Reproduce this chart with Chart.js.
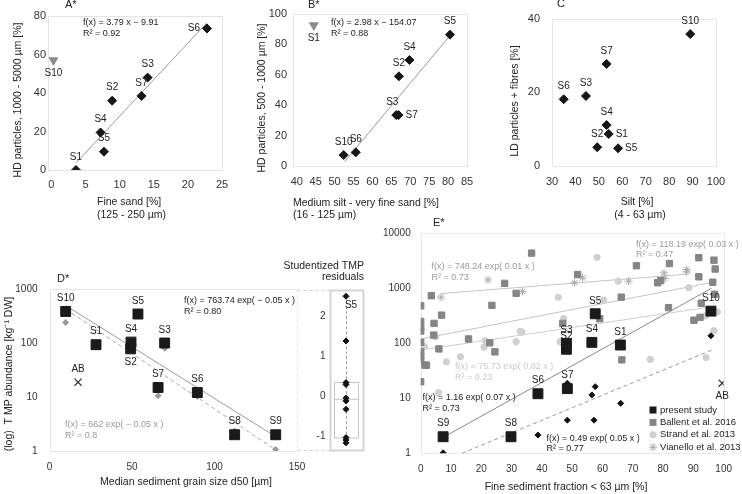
<!DOCTYPE html>
<html>
<head>
<meta charset="utf-8">
<script src="https://cdn.jsdelivr.net/npm/chart.js@4.4.0/dist/chart.umd.min.js"></script>
<style>
  html, body { margin: 0; padding: 0; background: #fff; }
  #wrap { position: relative; width: 742px; height: 494px; overflow: hidden; }
  #wrap canvas { position: absolute; left: 0; top: 0; }
</style>
</head>
<body>
<div id="wrap">
  <canvas id="cA" width="742" height="494"></canvas>
  <canvas id="cB" width="742" height="494"></canvas>
  <canvas id="cC" width="742" height="494"></canvas>
  <canvas id="cD" width="742" height="494"></canvas>
  <canvas id="cR" width="742" height="494"></canvas>
  <canvas id="cE" width="742" height="494"></canvas>
</div>
<script>
const W = 742, H = 494;
const FONT = '"Liberation Sans", Arial, Helvetica, sans-serif';
const YW = 45, XH = 30;   // fixed scale box sizes (labels are clipped to them)

// ---- A: fine sand vs HD particles 1000 - 5000 µm
const aNames = ['S1', 'S4', 'S5', 'S2', 'S7', 'S3', 'S6'];
const aFineSand = [3.6, 7.2, 7.7, 8.9, 13.2, 14.1, 22.8];
const aHD = [0, 19.5, 9.5, 36, 38.5, 48, 73.5];
const aOutNames = ['S10'];
const aOutX = [0.3];
const aOutY = [57];
const aFitX = [3.6, 22.8];
const aFitY = [3.7, 76.5];
const aTicksX = [0, 5, 10, 15, 20, 25];
const aTicksY = [0, 20, 40, 60, 80];

// ---- B: medium silt - very fine sand vs HD particles 500 - 1000 µm
const bNames = ['S10', 'S6', 'S3', 'S7', 'S2', 'S4', 'S5'];
const bSiltSand = [52.4, 55.6, 66.3, 66.9, 67.0, 69.8, 80.5];
const bHD = [7.2, 9, 33.5, 33.5, 59, 69.7, 86.4];
const bOutNames = ['S1'];
const bOutX = [44.5];
const bOutY = [92.6];
const bFitX = [52.6, 80.5];
const bFitY = [2.7, 85.8];
const bTicksX = [40, 45, 50, 55, 60, 65, 70, 75, 80, 85];
const bTicksY = [0, 20, 40, 60, 80, 100];

// ---- C: silt vs LD particles + fibres
const cNames = ['S10', 'S7', 'S6', 'S3', 'S4', 'S1', 'S2', 'S5'];
const cSilt = [89.0, 53.3, 35.0, 44.5, 53.3, 54.2, 49.3, 58.2];
const cLD = [35.8, 27.7, 18.1, 19.0, 11.1, 8.7, 5.1, 4.8];
const cTicksX = [30, 40, 50, 60, 70, 80, 90, 100];
const cTicksY = [0, 20, 40];

// ---- D / E: present study samples
const samples = ['S10', 'S1', 'S4', 'S2', 'S5', 'S3', 'S7', 'S6', 'S8', 'S9'];
const d50 = [9.8, 28.2, 49.4, 49.2, 53.6, 69.8, 65.8, 89.6, 112.2, 137.1];
const tmpAbundance = [384, 93, 104, 78, 344, 100, 15, 12.1, 2.0, 2.0];
const tmpAlt = [240, 88, 92, 75, 340, 80, 10.6, 10.2, 2.35, 1.07];
const finesFraction = [95.8, 65.9, 56.5, 48.1, 57.6, 48.1, 48.4, 38.7, 29.8, 7.4];
const abD50 = [17.3];
const abFines = [99.5];
const abTmp = [18.8];
const dFitX = [10, 137];
const dFitY = [490, 1.85];
const dFitAltX = [10, 137];
const dFitAltY = [420, 1.05];
const dTicksX = [0, 50, 100, 150];
const dTicksY = [1, 10, 100, 1000];

// ---- studentized TMP residuals
const resValues = [2.5, 1.38, 0.34, 0.29, -0.05, -0.12, -0.33, -1.04, -1.1, -1.17];
const resNames = ['S5', '', '', '', '', '', '', '', '', ''];
const resBox = [-1.05, -0.08, 0.34];   // q1, median, q3
const resTicks = [-1, 0, 1, 2];

// ---- E: literature comparison
const eSmallX = [7.4, 38.7, 48.4, 57.6, 56.5, 66.0, 48.4, 57.2, 95.8];
const eSmallY = [1.02, 2.15, 18.8, 16.3, 11.5, 8.1, 4.0, 4.0, 137];
const ballentX = [36.6, 27.7, 31.5, 3.5, 0, 23.5, 6.9, 0, 4.4, 0, 0, 4.3, 0, 15.8, 22.8, 46.9, 6.0, 0, 0, 0,
  1.4, 1.9, 24.5, 0, 51.8, 71.2, 82.1, 91.8, 96.8, 97.2, 91.8, 78.2, 79.2, 96.4, 66.2, 81.8, 59.1, 92.6, 97.0,
  92.2, 90.2, 66.4];
const ballentY = [4370, 1230, 810, 733, 480, 490, 325, 250, 230, 195, 167, 141, 104, 120, 102, 230, 79, 70, 60, 50,
  40, 40, 70, 20, 1780, 2570, 2820, 3600, 3250, 2240, 1620, 1260, 1380, 1290, 690, 445, 280, 535, 780,
  296, 263, 50];
const strandX = [1.2, 4.9, 8.5, 13.1, 5.9, 21.3, 20.9, 31.5, 32.8, 33.4, 45.4, 46.0, 47.2, 58.2, 65.2, 60.4,
  75.8, 88.5, 94.0, 97.9, 96.8, 94.2];
const strandY = [87, 131, 46, 57, 12.7, 112, 85, 107, 165, 160, 690, 107, 283, 3650, 1350, 615,
  51, 1025, 315, 370, 170, 55];
const vianelloX = [6.7, 22.2, 33.6, 50.8, 53.4, 68.6, 80.3, 80.6, 87.8, 87.8];
const vianelloY = [690, 1420, 870, 1260, 1550, 1350, 1900, 1510, 2200, 1980];
const eFitX = [7.5, 96];
const eFitY = [1.96, 1000];
const eFitSmallX = [13.6, 96];
const eFitSmallY = [1.0, 75];
const vianelloFitX = [6.7, 87.8];
const vianelloFitY = [802, 1803];
const ballentFitX = [0, 96.5];
const ballentFitY = [120, 1290];
const strandFitX = [1.2, 97.9];
const strandFitY = [77, 480];
const eTicksX = [0, 10, 20, 30, 40, 50, 60, 70, 80, 90, 100];
const eTicksY = [1, 10, 100, 1000, 10000];

Chart.defaults.font.family = FONT;
Chart.defaults.font.size = 11;
Chart.defaults.color = '#333';

const pts = (xs, ys) => xs.map((x, i) => ({x: x, y: ys[i]}));

// chart area edges in page pixels -> layout padding
function pad(l, t, r, b, noX) {
  return {left: Math.max(0, l - YW), top: t, right: W - r, bottom: H - b - (noX ? 0 : XH)};
}

function axis(type, min, max, ticks, tickPad, size, hidden) {
  const s = {
    type: type, min: min, max: max, display: !hidden,
    grid: {display: false, drawTicks: false},
    border: {display: false},
    ticks: {padding: tickPad, color: '#333', font: {size: size}, maxRotation: 0, minRotation: 0,
      autoSkip: false, callback: v => String(v)},
    afterBuildTicks: sc => { sc.ticks = ticks.map(v => ({value: v})); }
  };
  if (!hidden) {
    s.afterFit = sc => {
      if (sc.isHorizontal()) sc.height = XH;
      else sc.width = Math.min(YW, sc.chart.options.layout.padding.left + YW);
    };
  }
  return s;
}

function marks(xs, ys, style, extra) {
  return Object.assign({data: pts(xs, ys), showLine: false}, style, extra || {});
}

function fit(xs, ys, color, dash) {
  return {data: pts(xs, ys), showLine: true, borderColor: color, borderWidth: 1,
    borderDash: dash || [], pointRadius: 0};
}

function style(ps, r, fill, stroke, extra) {
  return Object.assign({pointStyle: ps, pointRadius: r, pointBackgroundColor: fill,
    pointBorderColor: stroke || fill, pointBorderWidth: 1}, extra || {});
}

const diamond = style('rectRot', 4.5, '#161616');
const triDown = style('triangle', 5, '#8c8c8c', '#8c8c8c', {pointRotation: 180});
const bigSquare = style('rect', 7, '#1a1a1a');
const smallGray = style('rectRot', 3, '#9a9a9a');
const smallBlack = style('rectRot', 3, '#111');
const crossMark = style('crossRot', 5, '#333', '#333', {pointBorderWidth: 1.2});

// light frame round the plot area
function frame(color, width, dashRight) {
  return {
    id: 'frame',
    beforeDatasetsDraw(chart) {
      const a = chart.chartArea, ctx = chart.ctx;
      const l = Math.round(a.left) + 0.5, r = Math.round(a.right) + 0.5;
      const t = Math.round(a.top) + 0.5, b = Math.round(a.bottom) + 0.5;
      ctx.save();
      ctx.strokeStyle = color;
      ctx.lineWidth = width;
      ctx.beginPath();
      ctx.moveTo(r, t); ctx.lineTo(l, t); ctx.lineTo(l, b); ctx.lineTo(r, b);
      if (!dashRight) ctx.lineTo(r, t);
      ctx.stroke();
      if (dashRight) {
        ctx.setLineDash([3, 3]);
        ctx.beginPath(); ctx.moveTo(r, t); ctx.lineTo(r, b); ctx.stroke();
      }
      ctx.restore();
    }
  };
}

// free text: titles, formulas, panel letters
function notes(items) {
  return {
    id: 'notes',
    afterDraw(chart) {
      const ctx = chart.ctx;
      items.forEach(n => {
        ctx.save();
        ctx.font = (n.size || 10.5) + 'px ' + FONT;
        ctx.fillStyle = n.color || '#222';
        ctx.textAlign = n.align || (n.rot ? 'center' : 'left');
        ctx.textBaseline = 'middle';
        ctx.translate(n.x, n.y);
        if (n.rot) ctx.rotate(-Math.PI / 2);
        ctx.fillText(n.text, 0, 0);
        ctx.restore();
      });
    }
  };
}

// sample names next to the points
const names = {
  id: 'names',
  afterDatasetsDraw(chart) {
    const ctx = chart.ctx;
    chart.data.datasets.forEach((ds, i) => {
      if (!ds.names) return;
      chart.getDatasetMeta(i).data.forEach((pt, j) => {
        const name = ds.names[j];
        if (!name) return;
        const pos = ds.namePos ? ds.namePos[j] : 'a';
        let x = pt.x, y = pt.y, align = 'center';
        if (pos === 'a') y -= 13;
        else if (pos === 'b') y += 13;
        else if (pos === 'l') { x -= 7; align = 'right'; }
        else if (pos === 'r') { x += 7; align = 'left'; }
        else { x += pos[0]; y += pos[1]; }
        ctx.save();
        ctx.font = '10px ' + FONT;
        ctx.fillStyle = '#222';
        ctx.textAlign = align;
        ctx.textBaseline = 'middle';
        ctx.fillText(name, x, y);
        ctx.restore();
      });
    });
  }
};

function makeChart(id, datasets, scales, padding, plugins) {
  return new Chart(document.getElementById(id), {
    type: 'scatter',
    data: {datasets: datasets},
    options: {
      responsive: false, animation: false, events: [],
      layout: {padding: padding},
      plugins: {legend: {display: false}, tooltip: {enabled: false}},
      scales: scales
    },
    plugins: plugins.concat([names])
  });
}

// ---------- A ----------
makeChart('cA', [
  marks(aFineSand, aHD, diamond, {names: aNames, namePos: ['a', 'a', 'a', 'a', 'a', 'a', 'l']}),
  marks(aOutX, aOutY, triDown, {names: aOutNames, namePos: ['b']}),
  fit(aFitX, aFitY, '#9a9a9a')
], {
  x: axis('linear', -0.5, 25, aTicksX, 8, 11),
  y: axis('linear', 0, 80, aTicksY, 2, 11)
}, pad(48, 16, 222, 170), [
  frame('#e4e4e4', 1),
  notes([
    {text: 'A*', x: 65, y: 5, size: 11},
    {text: 'f(x) = 3.79 x − 9.91', x: 83, y: 23, size: 9},
    {text: 'R² = 0.92', x: 83, y: 33.5, size: 9},
    {text: 'HD particles, 1000 - 5000 µm [%]', x: 18, y: 100, rot: true},
    {text: 'Fine sand [%]', x: 97, y: 202},
    {text: '(125 - 250 µm)', x: 97, y: 215}
  ])
]);

// ---------- B ----------
makeChart('cB', [
  marks(bSiltSand, bHD, diamond, {names: bNames, namePos: ['a', 'a', [-4, -13], 'r', 'a', 'a', 'a']}),
  marks(bOutX, bOutY, triDown, {names: bOutNames, namePos: ['b']}),
  fit(bFitX, bFitY, '#9a9a9a')
], {
  x: axis('linear', 39, 85, bTicksX, 9, 11),
  y: axis('linear', 0, 100, bTicksY, 6, 11)
}, pad(293, 14, 467, 166), [
  frame('#e4e4e4', 1),
  notes([
    {text: 'B*', x: 308, y: 5, size: 11},
    {text: 'f(x) = 2.98 x − 154.07', x: 331, y: 23, size: 9},
    {text: 'R² = 0.88', x: 331, y: 33.5, size: 9},
    {text: 'HD particles, 500 - 1000 µm [%]', x: 262, y: 98, rot: true},
    {text: 'Medium silt - very fine sand [%]', x: 293, y: 203},
    {text: '(16 - 125 µm)', x: 293, y: 215}
  ])
]);

// ---------- C ----------
makeChart('cC', [
  marks(cSilt, cLD, diamond, {names: cNames, namePos: ['a', 'a', 'a', 'a', 'a', 'r', 'a', 'r']})
], {
  x: axis('linear', 30, 100, cTicksX, 9, 11),
  y: axis('linear', 0, 40, cTicksY, 12, 11)
}, pad(552, 14, 716, 166), [
  frame('#e4e4e4', 1),
  notes([
    {text: 'C', x: 557, y: 4, size: 11},
    {text: 'LD particles + fibres [%]', x: 515, y: 101, rot: true},
    {text: 'Silt [%]', x: 637, y: 202, align: 'center'},
    {text: '(4 - 63 µm)', x: 640, y: 215, align: 'center'}
  ])
]);

// ---------- D ----------
makeChart('cD', [
  marks(d50, tmpAbundance, bigSquare, {names: samples,
    namePos: ['a', 'a', 'a', 'b', 'a', 'a', 'a', 'a', 'a', 'a']}),
  marks(d50, tmpAlt, smallGray),
  marks(abD50, abTmp, crossMark, {names: ['AB'], namePos: ['a']}),
  fit(dFitX, dFitY, '#9a9a9a'),
  fit(dFitAltX, dFitAltY, '#a8a8a8', [4, 3])
], {
  x: axis('linear', 0, 150, dTicksX, 10, 10),
  y: axis('logarithmic', 1, 1000, dTicksY, 12, 10)
}, pad(49.5, 289, 297, 451), [
  frame('#e4e4e4', 1, true),
  notes([
    {text: 'D*', x: 57, y: 279, size: 11},
    {text: 'f(x) = 763.74 exp( − 0.05 x )', x: 184, y: 301, size: 9},
    {text: 'R² = 0.80', x: 184, y: 312, size: 9},
    {text: 'f(x) = 662 exp( − 0.05 x )', x: 65, y: 425, size: 9, color: '#999'},
    {text: 'R² = 0.8', x: 65, y: 435.5, size: 9, color: '#999'},
    {text: '(log)  T MP abundance [kg⁻¹ DW]', x: 9, y: 374, rot: true},
    {text: 'Median sediment grain size d50 [µm]', x: 186, y: 482, align: 'center'}
  ])
]);

// ---------- studentized residuals ----------
const resBoxPlugin = {
  id: 'resBox',
  beforeDatasetsDraw(chart) {
    const ctx = chart.ctx, xs = chart.scales.x, ys = chart.scales.y, a = chart.chartArea;
    const cx = Math.round(xs.getPixelForValue(0)) + 0.5;
    ctx.save();
    ctx.lineWidth = 1;
    ctx.strokeStyle = '#cfcfcf';
    ctx.setLineDash([3, 3]);
    ctx.beginPath();
    ctx.moveTo(a.left - 32, Math.round(a.top) + 0.5); ctx.lineTo(a.left, Math.round(a.top) + 0.5);
    ctx.moveTo(a.left - 32, Math.round(a.bottom) + 0.5); ctx.lineTo(a.left, Math.round(a.bottom) + 0.5);
    ctx.stroke();
    ctx.strokeStyle = '#a0a0a0';
    ctx.setLineDash([3, 2]);
    ctx.beginPath();
    ctx.moveTo(cx, ys.getPixelForValue(Math.max(...resValues)));
    ctx.lineTo(cx, ys.getPixelForValue(Math.min(...resValues)));
    ctx.stroke();
    ctx.setLineDash([]);
    ctx.strokeStyle = '#c4c4c4';
    const q1 = ys.getPixelForValue(resBox[0]), med = ys.getPixelForValue(resBox[1]), q3 = ys.getPixelForValue(resBox[2]);
    ctx.strokeRect(cx - 12, q3, 24, q1 - q3);
    ctx.beginPath(); ctx.moveTo(cx - 12, med); ctx.lineTo(cx + 12, med); ctx.stroke();
    ctx.restore();
  }
};

makeChart('cR', [
  marks(resValues.map(() => 0), resValues, smallBlack, {names: resNames, namePos: [[5, 9]]})
], {
  x: axis('linear', -1, 1, [0], 0, 10, true),
  y: axis('linear', -1.35, 2.67, resTicks, 4, 10)
}, pad(329.5, 289.5, 362.5, 450, true), [
  frame('#d4d4d4', 2),
  resBoxPlugin,
  notes([
    {text: 'Studentized TMP', x: 364, y: 266, align: 'right'},
    {text: 'residuals', x: 364, y: 277.5, align: 'right'}
  ])
]);

// ---------- E ----------
function eLegend() {
  return {
    id: 'eLegend',
    afterDraw(chart) {
      const ctx = chart.ctx;
      let row = 0;
      chart.data.datasets.forEach(ds => {
        if (!ds.legendText) return;
        const x = 653, y = 410 + row * 12.4;
        row++;
        ctx.save();
        ctx.fillStyle = ds.pointBackgroundColor;
        ctx.strokeStyle = ds.pointBorderColor;
        ctx.lineWidth = 1;
        if (ds.pointStyle === 'circle') {
          ctx.beginPath(); ctx.arc(x, y, 3.5, 0, Math.PI * 2); ctx.fill();
        } else if (ds.pointStyle === 'star') {
          ctx.beginPath();
          ctx.moveTo(x - 4, y); ctx.lineTo(x + 4, y);
          ctx.moveTo(x, y - 4); ctx.lineTo(x, y + 4);
          ctx.moveTo(x - 3, y - 3); ctx.lineTo(x + 3, y + 3);
          ctx.moveTo(x - 3, y + 3); ctx.lineTo(x + 3, y - 3);
          ctx.stroke();
        } else {
          ctx.fillRect(x - 3.5, y - 3.5, 7, 7);
        }
        ctx.font = '9.5px ' + FONT;
        ctx.fillStyle = '#222';
        ctx.textBaseline = 'middle';
        ctx.fillText(ds.legendText, x + 7, y);
        ctx.restore();
      });
    }
  };
}

makeChart('cE', [
  marks(finesFraction, tmpAbundance, bigSquare, {names: samples, legendText: 'present study'}),
  marks(eSmallX, eSmallY, smallBlack),
  marks(abFines, abTmp, crossMark, {names: ['AB'], namePos: ['b']}),
  marks(ballentX, ballentY, style('rect', 4.5, '#858585'), {legendText: 'Ballent et al. 2016'}),
  marks(strandX, strandY, style('circle', 3.2, '#d0d0d0'), {legendText: 'Strand et al. 2013'}),
  marks(vianelloX, vianelloY, style('star', 4, '#a8a8a8', '#a8a8a8'), {legendText: 'Vianello et al. 2013'}),
  fit(eFitX, eFitY, '#8a8a8a'),
  fit(eFitSmallX, eFitSmallY, '#999', [4, 3]),
  fit(vianelloFitX, vianelloFitY, '#c4c4c4'),
  fit(ballentFitX, ballentFitY, '#c4c4c4'),
  fit(strandFitX, strandFitY, '#cdcdcd')
], {
  x: axis('linear', 0, 100, eTicksX, 10, 10),
  y: axis('logarithmic', 1, 10000, eTicksY, 10, 10)
}, pad(420.7, 233.3, 733.2, 453.3), [
  frame('#e8e8e8', 1),
  eLegend(),
  notes([
    {text: 'E*', x: 433, y: 223, size: 11},
    {text: 'f(x) = 748.24 exp( 0.01 x )', x: 431.5, y: 267, size: 9, color: '#9a9a9a'},
    {text: 'R² = 0.73', x: 431.5, y: 277.5, size: 9, color: '#9a9a9a'},
    {text: 'f(x) = 118.19 exp( 0.03 x )', x: 636, y: 244.5, size: 9, color: '#9a9a9a'},
    {text: 'R² = 0.47', x: 636, y: 255, size: 9, color: '#9a9a9a'},
    {text: 'f(x) = 75.73 exp( 0.02 x )', x: 455, y: 367, size: 9, color: '#c8c8c8'},
    {text: 'R² = 0.23', x: 455, y: 377.5, size: 9, color: '#c8c8c8'},
    {text: 'f(x) = 1.16 exp( 0.07 x )', x: 422.5, y: 398, size: 9},
    {text: 'R² = 0.73', x: 422.5, y: 408.5, size: 9},
    {text: 'f(x) = 0.49 exp( 0.05 x )', x: 546.5, y: 439, size: 9},
    {text: 'R² = 0.77', x: 546.5, y: 449, size: 9},
    {text: 'Fine sediment fraction < 63 µm [%]', x: 566, y: 487, align: 'center'}
  ])
]);
</script>
</body>
</html>
